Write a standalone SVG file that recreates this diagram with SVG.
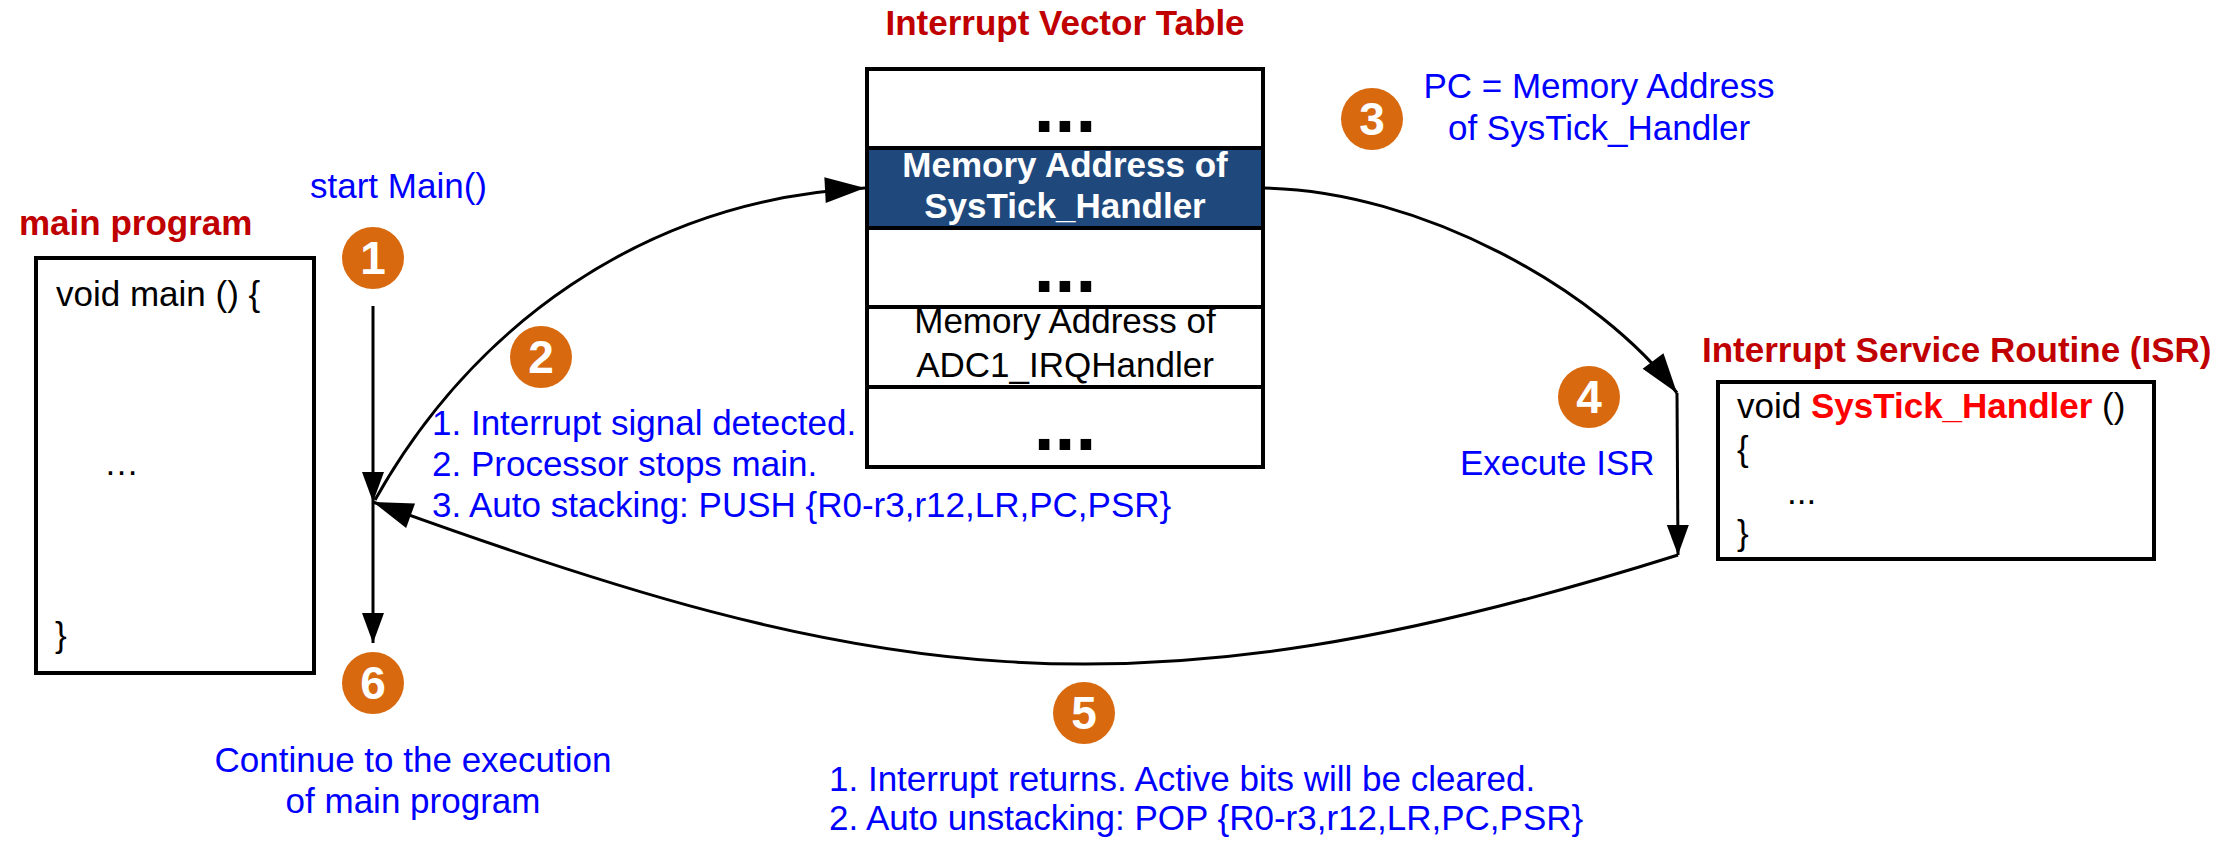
<svg xmlns="http://www.w3.org/2000/svg" width="2237" height="842" viewBox="0 0 2237 842">
<defs>
<style>
text{font-family:"Liberation Sans",Arial,sans-serif;}
.t{font-size:35px;fill:#000;}
.blue{fill:#0000ff;font-size:35px;}
.mid{text-anchor:middle;}
.title{fill:#c00000;font-size:35px;font-weight:bold;}
.box{fill:#fff;stroke:#000;stroke-width:4;}
.num{fill:#fff;font-size:46px;font-weight:bold;text-anchor:middle;}
.badge{fill:#d9690f;}
.conn{fill:none;stroke:#000;stroke-width:3;}
.dots{font-size:75px;font-weight:bold;text-anchor:middle;fill:#000;}
.wb{fill:#fff;font-size:35px;font-weight:bold;text-anchor:middle;}
</style>
<marker id="aS" markerUnits="userSpaceOnUse" markerWidth="31" markerHeight="22" refX="30" refY="11" orient="auto" overflow="visible">
<path d="M0,0 L30,11 L0,22 z" fill="#000"/>
</marker>
<marker id="aC" markerUnits="userSpaceOnUse" markerWidth="41" markerHeight="26" refX="40" refY="13" orient="auto" overflow="visible">
<path d="M0,0 L40,13 L0,26 z" fill="#000"/>
</marker>
</defs>
<rect width="2237" height="842" fill="#fff"/>

<g id="main-program">
<text class="title" x="19" y="235">main program</text>
<rect class="box" x="36" y="258" width="278" height="415"/>
<text class="t" x="56" y="306">void main () {</text>
<text class="t" x="104" y="475">…</text>
<text class="t" x="55" y="647">}</text>
</g>

<g id="vector-table">
<text class="title mid" x="1065" y="35">Interrupt Vector Table</text>
<rect class="box" x="867" y="69" width="396" height="398"/>
<rect x="867" y="148" width="396" height="80" fill="#1f497d" stroke="#000" stroke-width="4"/>
<line x1="867" y1="307" x2="1263" y2="307" stroke="#000" stroke-width="4"/>
<line x1="867" y1="387" x2="1263" y2="387" stroke="#000" stroke-width="4"/>
<text class="dots" x="1065" y="132">...</text>
<text class="wb" x="1065" y="177">Memory Address of</text>
<text class="wb" x="1065" y="218">SysTick_Handler</text>
<text class="dots" x="1065" y="292">...</text>
<text class="t mid" x="1065" y="333">Memory Address of</text>
<text class="t mid" x="1065" y="377">ADC1_IRQHandler</text>
<text class="dots" x="1065" y="450">...</text>
</g>

<g id="isr">
<text class="title" x="1702" y="362">Interrupt Service Routine (ISR)</text>
<rect class="box" x="1718" y="382" width="436" height="177"/>
<text class="t" x="1737" y="418">void <tspan fill="#ff0000" font-weight="bold">SysTick_Handler</tspan> ()</text>
<text class="t" x="1737" y="461">{</text>
<text class="t" x="1787" y="504">...</text>
<text class="t" x="1737" y="545">}</text>
</g>

<g id="step1">
<text class="blue" x="310" y="198">start Main()</text>
<circle class="badge" cx="373" cy="258" r="31"/>
<text class="num" x="373" y="274">1</text>
</g>

<g id="step2">
<circle class="badge" cx="541" cy="357" r="31"/>
<text class="num" x="541" y="373">2</text>
<text class="blue" x="432" y="435">1. Interrupt signal detected.</text>
<text class="blue" x="432" y="476">2. Processor stops main.</text>
<text class="blue" x="432" y="517">3. Auto stacking: PUSH {R0-r3,r12,LR,PC,PSR}</text>
</g>

<g id="step3">
<circle class="badge" cx="1372" cy="119" r="31"/>
<text class="num" x="1372" y="135">3</text>
<text class="blue mid" x="1599" y="98">PC = Memory Address</text>
<text class="blue mid" x="1599" y="140">of SysTick_Handler</text>
</g>

<g id="step4">
<circle class="badge" cx="1589" cy="397" r="31"/>
<text class="num" x="1589" y="413">4</text>
<text class="blue" x="1460" y="475">Execute ISR</text>
</g>

<g id="step5">
<circle class="badge" cx="1084" cy="713" r="31"/>
<text class="num" x="1084" y="729">5</text>
<text class="blue" x="829" y="791">1. Interrupt returns. Active bits will be cleared.</text>
<text class="blue" x="829" y="830">2. Auto unstacking: POP {R0-r3,r12,LR,PC,PSR}</text>
</g>

<g id="step6">
<circle class="badge" cx="373" cy="683" r="31"/>
<text class="num" x="373" y="699">6</text>
<text class="blue mid" x="413" y="772">Continue to the execution</text>
<text class="blue mid" x="413" y="813">of main program</text>
</g>

<g id="connectors">
<line class="conn" x1="373" y1="306" x2="373" y2="502" marker-end="url(#aS)"/>
<line class="conn" x1="373" y1="502" x2="373" y2="643" marker-end="url(#aS)"/>
<path class="conn" d="M375 500 C470 330 640 200 865 188" marker-end="url(#aC)"/>
<path class="conn" d="M1263 188 C1420 190 1600 290 1677 393" marker-end="url(#aC)"/>
<line class="conn" x1="1677" y1="393" x2="1678" y2="555" marker-end="url(#aS)"/>
<path class="conn" d="M1678 555 C1128 728 873 684 373 502" marker-end="url(#aC)"/>
</g>
</svg>
